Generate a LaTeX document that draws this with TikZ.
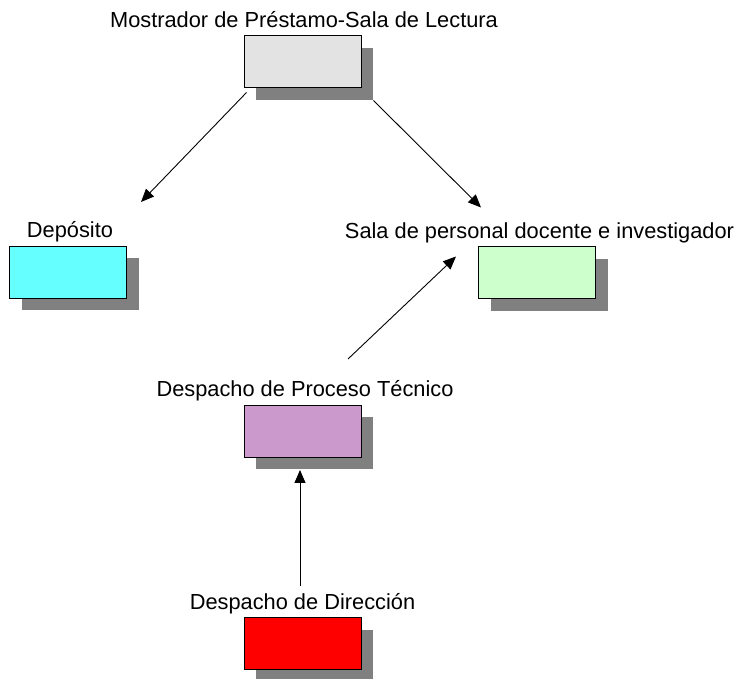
\documentclass[tikz,border=0pt]{standalone}
\usepackage{fontspec}
\setmainfont{Liberation Sans}
\usetikzlibrary{positioning, shadows, arrows.meta}

\definecolor{mosgray}{RGB}{227,227,227}
\definecolor{depcyan}{RGB}{102,255,255}
\definecolor{salagreen}{RGB}{204,255,204}
\definecolor{procpurple}{RGB}{204,153,204}

\begin{document}
\begin{tikzpicture}[
            x=1pt, y=1pt,
            room/.style={rectangle, draw, line width=1pt, minimum width=117pt, minimum height=52pt, inner sep=0pt,
                drop shadow={shadow xshift=12pt, shadow yshift=-12pt, opacity=1, fill=black!50}},
            roomlabel/.style={font=\fontsize{21.8}{26}\selectfont, inner sep=0pt},
            arr/.style={-{Triangle[length=13pt, width=11pt]}, line width=0.9pt},
        ]
            \useasboundingbox (0,0) rectangle (742,678);
            % rooms
            \node[room, fill=mosgray] (mos) at (302.5,616) {};
            \node[room, fill=depcyan] (dep) at (68,405.5) {};
            \node[room, fill=salagreen] (sala) at (537,405) {};
            \node[room, fill=procpurple] (proc) at (302.5,246.5) {};
            \node[room, fill=red] (dir) at (302.5,34.5) {};
            % names
            \node[roomlabel, above=8pt of mos.north, anchor=base, xshift=1.5pt] (mostxt) {Mostrador de Préstamo-Sala de Lectura};
            \node[roomlabel, above=8pt of dep.north, anchor=base, xshift=2pt] (deptxt) {Depósito};
            \node[roomlabel, above=8pt of sala.north, anchor=base, xshift=2.5pt] (salatxt) {Sala de personal docente e investigador};
            \node[roomlabel, above=8pt of proc.north, anchor=base, xshift=2.5pt] (proctxt) {Despacho de Proceso Técnico};
            \node[roomlabel, above=8pt of dir.north, anchor=base] (dirtxt) {Despacho de Dirección};
            % circulation
            \draw[arr] ([shift={(3,-4)}]mos.south west) -- ([shift={(14,44)}]dep.north east);
            \draw[arr] ([shift={(12,-12)}]mos.south east) -- ([shift={(3,39)}]sala.north west);
            \draw[arr] ([shift={(45.5,46)}]proc.north) -- ([shift={(-22,-10)}]sala.north west);
            \draw[arr] ([shift={(-2.5,31)}]dir.north) -- ([shift={(-2.5,-12)}]proc.south);
        \end{tikzpicture}
\end{document}
